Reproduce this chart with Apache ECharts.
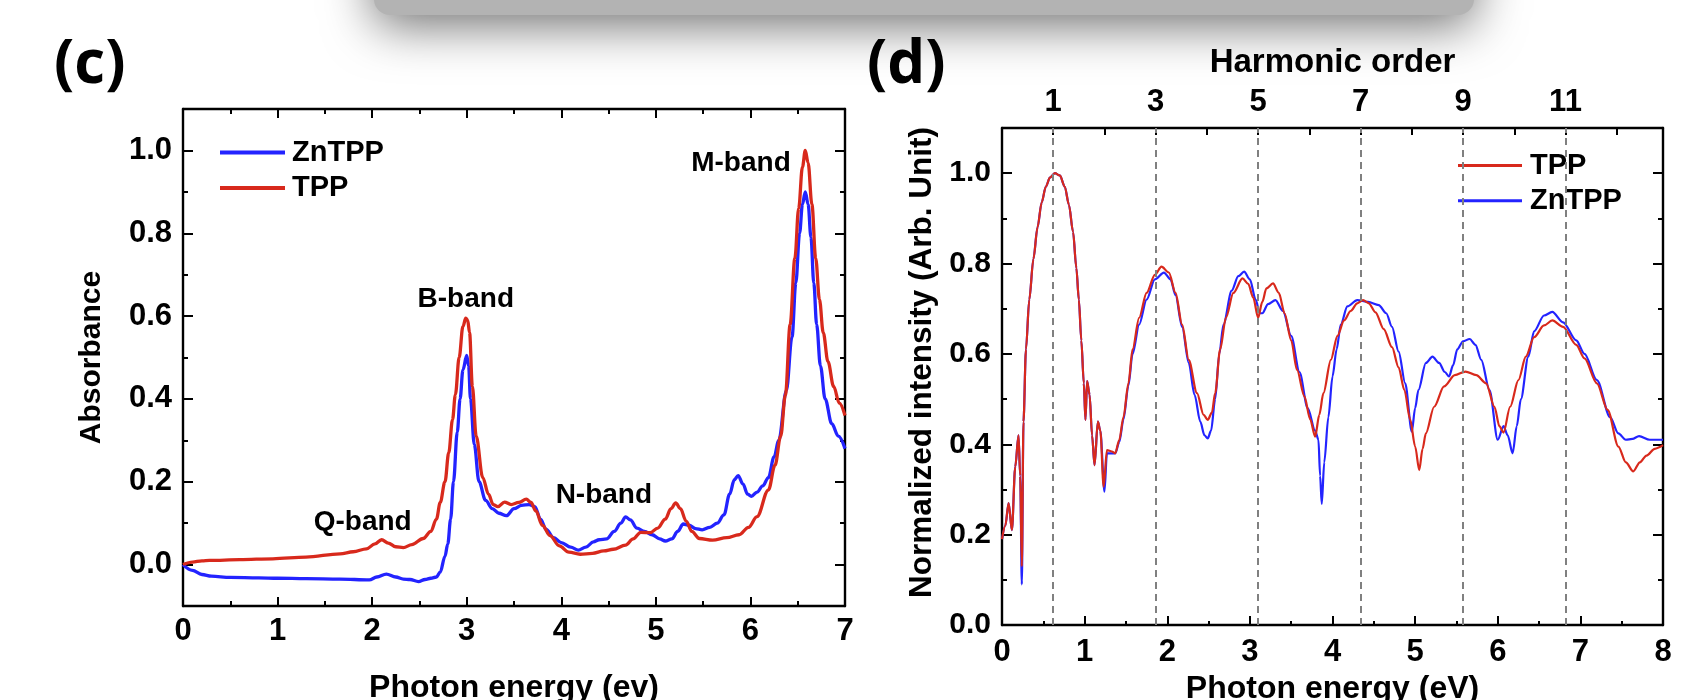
<!DOCTYPE html>
<html><head><meta charset="utf-8">
<script src="https://cdn.jsdelivr.net/npm/echarts@6/dist/echarts.min.js"></script>
<style>html,body{margin:0;padding:0;background:#fff}#chart{width:1685px;height:700px}</style>
</head><body><div id="chart"></div>
<script>
// ---------- data: panel (c) absorbance ----------
const absorbanceZnTPP = [[0,0],[0.1,-0.014],[0.2,-0.024],[0.3,-0.028],[0.5,-0.031],[0.8,-0.032],[1.0,-0.033],[1.3,-0.034],[1.66,-0.035],[1.97,-0.037],[2.05,-0.03],[2.15,-0.023],[2.25,-0.03],[2.33,-0.035],[2.4,-0.036],[2.49,-0.041],[2.56,-0.036],[2.62,-0.033],[2.68,-0.03],[2.72,-0.018],[2.77,0.02],[2.8,0.05],[2.83,0.11],[2.86,0.2],[2.9,0.32],[2.93,0.4],[2.96,0.47],[3.0,0.505],[3.02,0.48],[3.04,0.4],[3.08,0.29],[3.13,0.2],[3.2,0.155],[3.27,0.135],[3.34,0.124],[3.42,0.118],[3.5,0.135],[3.58,0.143],[3.66,0.145],[3.72,0.14],[3.78,0.11],[3.84,0.085],[3.92,0.065],[4.0,0.053],[4.1,0.042],[4.18,0.035],[4.26,0.042],[4.34,0.055],[4.4,0.06],[4.48,0.062],[4.56,0.08],[4.63,0.1],[4.68,0.115],[4.73,0.108],[4.8,0.088],[4.88,0.08],[4.96,0.072],[5.04,0.062],[5.1,0.057],[5.17,0.062],[5.23,0.08],[5.29,0.098],[5.35,0.095],[5.42,0.087],[5.49,0.084],[5.57,0.09],[5.65,0.1],[5.72,0.12],[5.78,0.17],[5.83,0.205],[5.87,0.215],[5.92,0.195],[5.97,0.17],[6.01,0.165],[6.07,0.175],[6.13,0.19],[6.19,0.21],[6.25,0.26],[6.3,0.3],[6.38,0.42],[6.44,0.55],[6.48,0.68],[6.52,0.8],[6.55,0.87],[6.58,0.9],[6.61,0.87],[6.64,0.79],[6.67,0.68],[6.7,0.58],[6.74,0.48],[6.79,0.4],[6.86,0.34],[6.93,0.31],[7.0,0.28]];
const absorbanceTPP = [[0,0],[0.1,0.006],[0.2,0.009],[0.28,0.01],[0.6,0.012],[0.95,0.014],[1.3,0.018],[1.66,0.026],[1.8,0.031],[1.94,0.038],[2.03,0.05],[2.1,0.06],[2.17,0.052],[2.25,0.043],[2.33,0.041],[2.42,0.048],[2.54,0.063],[2.62,0.08],[2.68,0.11],[2.72,0.15],[2.77,0.2],[2.81,0.27],[2.85,0.35],[2.88,0.41],[2.92,0.5],[2.96,0.575],[2.99,0.595],[3.01,0.59],[3.03,0.56],[3.06,0.43],[3.1,0.31],[3.17,0.21],[3.23,0.17],[3.28,0.145],[3.33,0.14],[3.4,0.151],[3.47,0.145],[3.55,0.15],[3.63,0.158],[3.68,0.15],[3.73,0.13],[3.8,0.095],[3.88,0.07],[3.98,0.045],[4.08,0.03],[4.2,0.025],[4.33,0.027],[4.45,0.033],[4.55,0.037],[4.68,0.047],[4.76,0.062],[4.84,0.078],[4.94,0.077],[5.02,0.088],[5.1,0.11],[5.16,0.135],[5.21,0.149],[5.26,0.135],[5.32,0.105],[5.38,0.08],[5.46,0.063],[5.6,0.059],[5.75,0.065],[5.88,0.072],[5.98,0.09],[6.07,0.116],[6.19,0.18],[6.26,0.24],[6.32,0.31],[6.37,0.41],[6.42,0.58],[6.47,0.74],[6.51,0.86],[6.55,0.96],[6.58,1.0],[6.61,0.97],[6.65,0.87],[6.69,0.74],[6.73,0.64],[6.77,0.56],[6.82,0.49],[6.88,0.43],[6.94,0.39],[7.0,0.36]];

// ---------- data: panel (d) harmonic spectra ----------
const hhgTPP = [[0,0.19],[0.04,0.22],[0.08,0.27],[0.12,0.21],[0.16,0.35],[0.2,0.42],[0.22,0.33],[0.24,0.13],[0.26,0.45],[0.29,0.61],[0.33,0.72],[0.38,0.81],[0.43,0.88],[0.48,0.935],[0.53,0.97],[0.58,0.99],[0.64,1.0],[0.7,0.995],[0.76,0.97],[0.81,0.93],[0.86,0.87],[0.9,0.79],[0.93,0.72],[0.96,0.63],[0.99,0.535],[1.01,0.454],[1.03,0.54],[1.06,0.51],[1.09,0.42],[1.12,0.354],[1.16,0.45],[1.19,0.43],[1.23,0.306],[1.27,0.387],[1.33,0.384],[1.37,0.38],[1.42,0.41],[1.47,0.46],[1.53,0.535],[1.58,0.61],[1.66,0.68],[1.75,0.735],[1.85,0.775],[1.93,0.793],[2.02,0.78],[2.1,0.735],[2.18,0.665],[2.26,0.587],[2.36,0.513],[2.44,0.465],[2.49,0.454],[2.54,0.47],[2.58,0.513],[2.64,0.61],[2.71,0.68],[2.8,0.735],[2.91,0.767],[2.98,0.755],[3.04,0.725],[3.1,0.68],[3.15,0.715],[3.2,0.745],[3.28,0.756],[3.35,0.735],[3.42,0.69],[3.5,0.63],[3.57,0.565],[3.66,0.506],[3.73,0.455],[3.79,0.417],[3.84,0.465],[3.89,0.513],[3.98,0.587],[4.06,0.64],[4.14,0.674],[4.22,0.695],[4.3,0.712],[4.37,0.719],[4.44,0.712],[4.52,0.692],[4.62,0.655],[4.72,0.615],[4.8,0.57],[4.87,0.52],[4.94,0.455],[5.0,0.395],[5.05,0.343],[5.09,0.39],[5.13,0.424],[5.23,0.483],[5.35,0.528],[5.48,0.553],[5.61,0.561],[5.74,0.553],[5.86,0.535],[5.96,0.483],[6.02,0.44],[6.07,0.426],[6.15,0.483],[6.25,0.542],[6.34,0.594],[6.44,0.637],[6.56,0.663],[6.66,0.674],[6.79,0.66],[6.95,0.62],[7.05,0.59],[7.2,0.535],[7.33,0.476],[7.46,0.395],[7.55,0.36],[7.64,0.34],[7.72,0.36],[7.8,0.375],[7.9,0.39],[8.0,0.398]];
const hhgZnTPP = [[0,0.19],[0.04,0.22],[0.08,0.27],[0.12,0.21],[0.16,0.35],[0.2,0.42],[0.22,0.33],[0.24,0.09],[0.26,0.45],[0.29,0.61],[0.33,0.72],[0.38,0.81],[0.43,0.88],[0.48,0.935],[0.53,0.97],[0.58,0.99],[0.64,1.0],[0.7,0.995],[0.76,0.97],[0.81,0.93],[0.86,0.87],[0.9,0.79],[0.93,0.72],[0.96,0.63],[0.99,0.535],[1.01,0.454],[1.03,0.54],[1.06,0.51],[1.09,0.42],[1.12,0.354],[1.16,0.45],[1.19,0.43],[1.24,0.295],[1.27,0.38],[1.33,0.38],[1.37,0.38],[1.42,0.405],[1.47,0.455],[1.53,0.53],[1.58,0.6],[1.66,0.665],[1.75,0.72],[1.85,0.765],[1.96,0.78],[2.04,0.765],[2.1,0.73],[2.18,0.66],[2.26,0.58],[2.33,0.51],[2.4,0.45],[2.45,0.42],[2.49,0.413],[2.53,0.43],[2.58,0.5],[2.63,0.6],[2.68,0.665],[2.78,0.74],[2.86,0.772],[2.93,0.782],[3.0,0.765],[3.07,0.72],[3.12,0.69],[3.15,0.69],[3.22,0.71],[3.31,0.719],[3.4,0.695],[3.5,0.64],[3.6,0.56],[3.7,0.48],[3.79,0.43],[3.83,0.41],[3.85,0.33],[3.87,0.268],[3.9,0.36],[3.95,0.46],[4.0,0.55],[4.05,0.61],[4.1,0.665],[4.18,0.705],[4.3,0.719],[4.43,0.715],[4.56,0.708],[4.65,0.69],[4.72,0.66],[4.8,0.605],[4.88,0.535],[4.96,0.428],[5.0,0.48],[5.04,0.52],[5.13,0.58],[5.21,0.594],[5.29,0.58],[5.36,0.56],[5.41,0.55],[5.46,0.575],[5.51,0.61],[5.58,0.628],[5.66,0.633],[5.73,0.62],[5.8,0.587],[5.9,0.52],[6.0,0.41],[6.07,0.44],[6.12,0.42],[6.18,0.38],[6.23,0.44],[6.28,0.5],[6.37,0.594],[6.44,0.65],[6.56,0.685],[6.66,0.693],[6.79,0.67],[6.95,0.63],[7.05,0.6],[7.2,0.542],[7.36,0.46],[7.46,0.424],[7.55,0.41],[7.63,0.412],[7.71,0.418],[7.84,0.41],[8.0,0.41]];

// ---------- ticks / labels ----------
const majorYTicks = [0, 0.2, 0.4, 0.6, 0.8, 1.0];
const minorYTicks = [0.1, 0.3, 0.5, 0.7, 0.9];
const harmonicOrders = [1, 3, 5, 7, 9, 11];
const harmonicTickOrders = [1, 2, 3, 4, 5, 6, 7, 8, 9, 10, 11, 12];
const fundamentalEV = 0.62;
const bandLabels = [
  {name: 'Q-band', coord: [1.90, 0.102]},
  {name: 'B-band', coord: [2.99, 0.641]},
  {name: 'N-band', coord: [4.45, 0.168]},
  {name: 'M-band', coord: [5.90, 0.97]}
];

const FONT = '"Liberation Sans", Arial, Helvetica, sans-serif';
const RED = '#d8291c';
const BLUE = '#2323ff';

function yAxisOf(grid, pos, ticks, len, labels, fs, extra) {
  return Object.assign({
    type: 'value', gridIndex: grid, position: pos,
    min: extra.min, max: extra.max,
    axisLine: {show: !!labels || !!extra.line, onZero: false, lineStyle: {color: '#000', width: 2.4}},
    axisTick: {show: true, inside: true, length: len, customValues: ticks, lineStyle: {color: '#000', width: 2}},
    axisLabel: labels ? {show: true, customValues: labels, formatter: v => v.toFixed(1), fontFamily: FONT, fontWeight: 'bold', fontSize: fs, color: '#000', margin: 11} : {show: false},
    splitLine: {show: false}
  }, extra.rest || {});
}

const chart = echarts.init(document.getElementById('chart'), null, {renderer: 'canvas'});
const option = {
  animation: false,
  backgroundColor: '#fff',
  grid: [
    {left: 183, top: 109, width: 662, height: 497, outerBoundsMode: 'none', containLabel: false},
    {left: 1002, top: 128, width: 661, height: 497, outerBoundsMode: 'none', containLabel: false}
  ],
  xAxis: [
    {type: 'value', gridIndex: 0, position: 'bottom', min: 0, max: 7, interval: 1,
     axisLine: {onZero: false, lineStyle: {color: '#000', width: 2.4}},
     axisTick: {inside: true, length: 9, lineStyle: {color: '#000', width: 2}},
     minorTick: {show: true, splitNumber: 2, length: 5, lineStyle: {color: '#000', width: 2}},
     axisLabel: {fontFamily: FONT, fontWeight: 'bold', fontSize: 31, color: '#000', margin: 10},
     splitLine: {show: false}, minorSplitLine: {show: false},
     name: 'Photon energy (ev)', nameLocation: 'middle', nameGap: 66,
     nameTextStyle: {fontFamily: FONT, fontWeight: 'bold', fontSize: 32, color: '#000'}},
    {type: 'value', gridIndex: 0, position: 'top', min: 0, max: 7, interval: 1,
     axisLine: {onZero: false, lineStyle: {color: '#000', width: 2.4}},
     axisTick: {inside: true, length: 9, lineStyle: {color: '#000', width: 2}},
     minorTick: {show: true, splitNumber: 2, length: 5, lineStyle: {color: '#000', width: 2}},
     axisLabel: {show: false}, splitLine: {show: false}},
    {type: 'value', gridIndex: 1, position: 'bottom', min: 0, max: 8, interval: 1,
     axisLine: {onZero: false, lineStyle: {color: '#000', width: 2.4}},
     axisTick: {inside: true, length: 9, lineStyle: {color: '#000', width: 2}},
     minorTick: {show: true, splitNumber: 2, length: 4, lineStyle: {color: '#000', width: 2}},
     axisLabel: {fontFamily: FONT, fontWeight: 'bold', fontSize: 31, color: '#000', margin: 12},
     splitLine: {show: false}, minorSplitLine: {show: false},
     name: 'Photon energy (eV)', nameLocation: 'middle', nameGap: 47,
     nameTextStyle: {fontFamily: FONT, fontWeight: 'bold', fontSize: 32, color: '#000'}},
    {type: 'value', gridIndex: 1, position: 'top', min: 0, max: 8 / fundamentalEV,
     axisLine: {onZero: false, lineStyle: {color: '#000', width: 2.4}},
     axisTick: {inside: true, length: 7, customValues: harmonicTickOrders, lineStyle: {color: '#000', width: 2}},
     axisLabel: {customValues: harmonicOrders, formatter: v => String(Math.round(v)), fontFamily: FONT, fontWeight: 'bold', fontSize: 31, color: '#000', margin: 10},
     splitLine: {show: false},
     name: 'Harmonic order', nameLocation: 'middle', nameGap: 49,
     nameTextStyle: {fontFamily: FONT, fontWeight: 'bold', fontSize: 33, color: '#000'}}
  ],
  yAxis: [
    yAxisOf(0, 'left', majorYTicks, 10, majorYTicks, 31, {min: -0.1, max: 1.1, rest: {
      name: 'Absorbance', nameLocation: 'middle', nameGap: 76,
      nameTextStyle: {fontFamily: FONT, fontWeight: 'bold', fontSize: 30, color: '#000'}}}),
    yAxisOf(0, 'left', minorYTicks, 5, null, 31, {min: -0.1, max: 1.1}),
    yAxisOf(0, 'right', majorYTicks, 10, null, 31, {min: -0.1, max: 1.1, line: true}),
    yAxisOf(0, 'right', minorYTicks, 5, null, 31, {min: -0.1, max: 1.1}),
    yAxisOf(1, 'left', majorYTicks, 10, majorYTicks, 30, {min: 0, max: 1.1, rest: {
      name: 'Normalized intensity (Arb. Unit)', nameLocation: 'middle', nameGap: 64,
      nameTextStyle: {fontFamily: FONT, fontWeight: 'bold', fontSize: 31.5, color: '#000', padding: [0, 0, 0, 28]}}}),
    yAxisOf(1, 'left', minorYTicks, 5, null, 30, {min: 0, max: 1.1}),
    yAxisOf(1, 'right', majorYTicks, 10, null, 30, {min: 0, max: 1.1, line: true}),
    yAxisOf(1, 'right', minorYTicks, 5, null, 30, {min: 0, max: 1.1})
  ],
  legend: [
    {orient: 'vertical', left: 220, top: 138, padding: 0, itemGap: 6.6, itemWidth: 65, itemHeight: 4,
     icon: 'rect', selectedMode: false, data: ['ZnTPP', 'TPP'],
     textStyle: {fontFamily: FONT, fontWeight: 'bold', fontSize: 29, lineHeight: 29, color: '#000', padding: [0, 0, 0, 2]}},
    {orient: 'vertical', left: 1458, top: 151, padding: 0, itemGap: 6.3, itemWidth: 64, itemHeight: 3,
     icon: 'rect', selectedMode: false, data: ['TPP', 'ZnTPP'],
     textStyle: {fontFamily: FONT, fontWeight: 'bold', fontSize: 29, lineHeight: 29, color: '#000', padding: [0, 0, 0, 3]}}
  ],
  series: [
    {type: 'line', name: 'ZnTPP', xAxisIndex: 0, yAxisIndex: 0, data: absorbanceZnTPP,
     symbol: 'none', smooth: 0.35, smoothMonotone: 'x', color: BLUE, lineStyle: {color: BLUE, width: 3.3}},
    {type: 'line', name: 'TPP', xAxisIndex: 0, yAxisIndex: 0, data: absorbanceTPP,
     symbol: 'none', smooth: 0.35, smoothMonotone: 'x', color: RED, lineStyle: {color: RED, width: 3.3},
     markPoint: {silent: true, symbol: 'circle', symbolSize: 1, itemStyle: {color: 'rgba(0,0,0,0)'},
       label: {show: true, position: 'inside', formatter: p => p.name, fontFamily: FONT, fontWeight: 'bold', fontSize: 28, color: '#000'},
       data: bandLabels.map(b => ({name: b.name, coord: b.coord}))}},
    {type: 'line', name: 'ZnTPP', xAxisIndex: 2, yAxisIndex: 4, data: hhgZnTPP,
     symbol: 'none', smooth: 0.3, smoothMonotone: 'x', color: BLUE, lineStyle: {color: BLUE, width: 2.2},
     markLine: {silent: true, symbol: ['none', 'none'], label: {show: false},
       lineStyle: {type: [7, 5], color: '#808080', width: 2},
       data: harmonicOrders.map(n => ({xAxis: n * fundamentalEV}))}},
    {type: 'line', name: 'TPP', xAxisIndex: 2, yAxisIndex: 4, data: hhgTPP,
     symbol: 'none', smooth: 0.3, smoothMonotone: 'x', color: RED, lineStyle: {color: RED, width: 2.2}}
  ],
  graphic: [
    {type: 'rect', z: -10, shape: {x: 374, y: -90, width: 1100, height: 105, r: 16},
     style: {fill: '#b3b3b3', shadowBlur: 50, shadowColor: 'rgba(110,110,110,1)', shadowOffsetY: 10}},
    {type: 'text', left: 54, top: 36, style: {text: '(c)', font: 'bold 60px "Open Sans", "Noto Sans", sans-serif', fill: '#000'}},
    {type: 'text', left: 867, top: 36, style: {text: '(d)', font: 'bold 60px "Open Sans", "Noto Sans", sans-serif', fill: '#000'}}
  ]
};
chart.setOption(option);
</script></body></html>
